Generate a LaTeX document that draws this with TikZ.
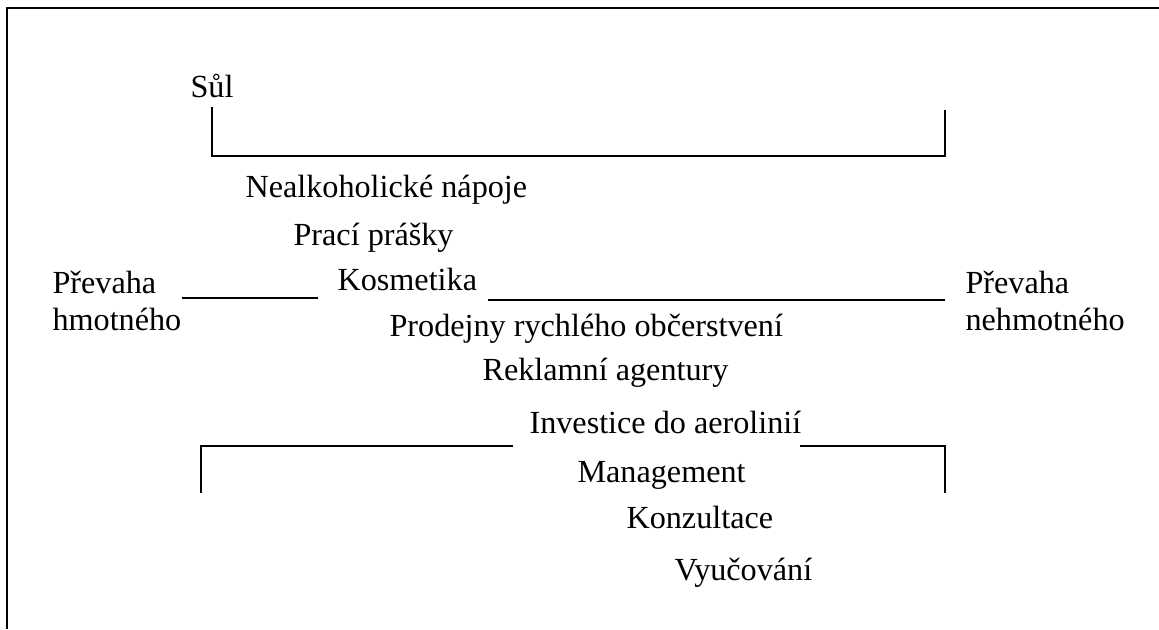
\documentclass[tikz,border=0pt]{standalone}
\usepackage{fontspec}
\setmainfont{Liberation Serif}
\usetikzlibrary{positioning}

\begin{document}
\begin{tikzpicture}[x=0.3727pt, y=-0.3727pt, font=\fontsize{12}{14}\selectfont,
  item/.style={anchor=base west, inner sep=0pt},
  rule/.style={line width=0.6pt},
]
  \useasboundingbox (0,0) rectangle (1159,629);
  % frame (cut off at right and bottom)
  \draw[rule] (7,629) -- (7,8) -- (1159,8);

  % upper bracket
  \node[item] (sul) at (190,97) {Sůl};
  \coordinate (ta) at (212,107);
  \coordinate (tb) at (212,156);
  \coordinate (tc) at (945,156);
  \coordinate (td) at (945,110);
  \draw[rule] (ta) -- (tb) -- (tc) -- (td);

  \node[item] (napoje) at (245,197) {Nealkoholické nápoje};
  \node[item] (prasky) at (293,245) {Prací prášky};

  % axis
  \node[item, align=left] (hmot) at (52,293) {Převaha};
  \node[item] (hmot2) at (52,330) {hmotného};
  \node[item] (kosm) at (337,290) {Kosmetika};
  \node[item] (nehmot) at (965,293) {Převaha};
  \node[item] (nehmot2) at (965,330) {nehmotného};
  \coordinate (la) at (182,298);
  \coordinate (lb) at (318,298);
  \coordinate (ra) at (488,300);
  \coordinate (rb) at (945,300);
  \draw[rule] (la) -- (lb);
  \draw[rule] (ra) -- (rb);

  \node[item] (prodejny) at (389,336) {Prodejny rychlého občerstvení};
  \node[item] (reklama) at (482,380) {Reklamní agentury};
  \node[item] (aero) at (529,433) {Investice do aerolinií};

  % lower bracket
  \coordinate (ba) at (201,493);
  \coordinate (bb) at (201,446);
  \coordinate (bc) at (513,446);
  \coordinate (bd) at (800,446);
  \coordinate (be) at (945,446);
  \coordinate (bf) at (945,493);
  \draw[rule] (ba) -- (bb) -- (bc);
  \draw[rule] (bd) -- (be) -- (bf);

  \node[item] (mgmt) at (577,482) {Management};
  \node[item] (konz) at (626,528) {Konzultace};
  \node[item] (vyuc) at (674,580) {Vyučování};
\end{tikzpicture}
\end{document}
